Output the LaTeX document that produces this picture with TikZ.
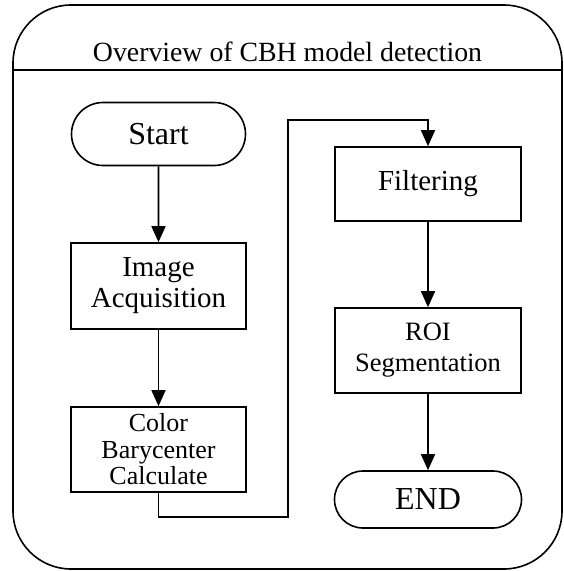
\documentclass[tikz,border=0pt]{standalone}
\usepackage{fontspec}
\setmainfont{Liberation Serif}
\usetikzlibrary{shapes.misc,arrows.meta,positioning}

\begin{document}
\begin{tikzpicture}[x=1pt, y=-1pt, line width=1.6pt,
    procbox/.style={draw, rectangle, inner sep=0pt, align=center, minimum width=175pt, minimum height=86pt},
    termbox/.style={draw, rounded rectangle, inner sep=0pt, minimum height=60pt, font=\fontsize{32}{34}\selectfont},
    flow/.style={-{Triangle[length=16pt,width=14pt]}}]
    \useasboundingbox (0,0) rectangle (563,571);
    % frame and title bar
    \draw[rounded corners=58pt] (13,5) rectangle (562,569);
    \draw (13,70) -- (562,70);
    \node (title) [anchor=base, font=\fontsize{27.8}{30}\selectfont] at (287.5,61) {Overview of CBH model detection};
    % left column
    \node (start) [termbox, minimum width=174pt, minimum height=63pt] at (158.5,134) {Start};
    \node (acq) [procbox, font=\fontsize{29}{31}\selectfont] at (158.5,286) {Image\\Acquisition};
    \node (bary) [procbox, minimum height=85pt, font=\fontsize{26}{26.5}\selectfont] at (158.5,449.5) {Color\\Barycenter\\Calculate};
    % right column
    \node (filter) [procbox, minimum width=186pt, minimum height=74pt, font=\fontsize{29}{31}\selectfont] at (428,184) {Filtering};
    \node (roi) [procbox, minimum width=186pt, minimum height=85pt, font=\fontsize{26.5}{31}\selectfont] at (428,350.5) {ROI\\Segmentation};
    \node (end) [termbox, minimum width=187pt, minimum height=57pt] at (428,499.5) {END};
    % connectors
    \draw[flow] (start) -- (acq);
    \draw[flow] (acq) -- (bary);
    \coordinate (loopdown) at (288,517);
    \coordinate (loopup) at (288,120);
    \draw[flow] (bary.south) |- (loopdown) -- (loopup) -| (filter.north);
    \draw[flow] (filter) -- (roi);
    \draw[flow] (roi) -- (end);
\end{tikzpicture}
\end{document}
